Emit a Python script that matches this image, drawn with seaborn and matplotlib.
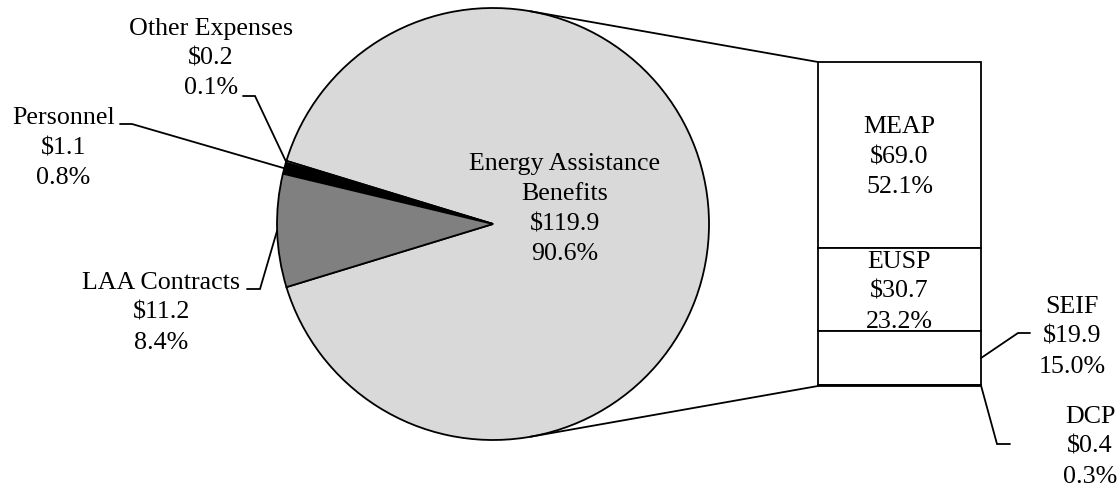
import numpy as np
import pandas as pd
import matplotlib
matplotlib.use("Agg")
import matplotlib.pyplot as plt
import seaborn as sns

# Spending by category, $ millions (pie)
pie_names = ["Energy Assistance Benefits", "Other Expenses", "Personnel", "LAA Contracts"]
pie_values = [119.9, 0.2, 1.1, 11.2]
pie_pcts = ["90.6%", "0.1%", "0.8%", "8.4%"]
pie_colors = ["#d9d9d9", "#ffffff", "#000000", "#808080"]

# Breakdown of Energy Assistance Benefits, $ millions (stacked bar)
bar_names = ["MEAP", "EUSP", "SEIF", "DCP"]
bar_values = [69.0, 30.7, 19.9, 0.4]
bar_pcts = ["52.1%", "23.2%", "15.0%", "0.3%"]

W, H = 1120, 489
sns.set_theme(style="white")
plt.rcParams["font.family"] = ["Liberation Serif", "DejaVu Serif"]
FS = 18.7
LINE_GAP = 30  # px between label lines
LW = 1.3

fig = plt.figure(figsize=(W / 100, H / 100), dpi=100)
fig.patch.set_facecolor("white")


def px_axes(x0, y0, x1, y1):
    """Axes from a pixel box given with y measured from the top."""
    return fig.add_axes([x0 / W, (H - y1) / H, (x1 - x0) / W, (y1 - y0) / H])


# ---- pie ----
pcx, pcy, pr = 493, 225, 216
m = 1.03
ax_pie = px_axes(pcx - pr * m, pcy - pr * m, pcx + pr * m, pcy + pr * m)
start = -0.5 * 360 * pie_values[0] / sum(pie_values)
wedges, _ = ax_pie.pie(pie_values, colors=pie_colors, startangle=start,
                       counterclock=True, radius=1,
                       wedgeprops=dict(edgecolor="black", linewidth=LW))
ax_pie.set_xlim(-m, m)
ax_pie.set_ylim(-m, m)
ax_pie.set_axis_off()

# ---- stacked bar ----
ax_bar = px_axes(818, 63, 981, 387)
bar_df = pd.DataFrame({"group": ["Energy Assistance Benefits"] * len(bar_values),
                       "segment": bar_names, "value": bar_values})
bottoms = np.concatenate([[0], np.cumsum(bar_values)[:-1]])
for i, row in bar_df.iterrows():
    sns.barplot(data=bar_df.iloc[[i]], x="group", y="value", bottom=bottoms[i],
                color="white", saturation=1, edgecolor="black", linewidth=LW,
                width=1, errorbar=None, ax=ax_bar)
for p in ax_bar.patches:
    p.set_clip_on(False)
ax_bar.set_xlim(-0.5, 0.5)
ax_bar.set_ylim(sum(bar_values), 0)
ax_bar.set_axis_off()

# ---- overlay in pixel coordinates for labels and connectors ----
ax = fig.add_axes([0, 0, 1, 1])
ax.set_xlim(0, W)
ax.set_ylim(H, 0)
ax.set_axis_off()
ax.patch.set_alpha(0)


def to_px(transform, pt):
    return ax.transData.inverted().transform(transform.transform(pt))


def block(x, yc, lines):
    n = len(lines)
    for i, s in enumerate(lines):
        ax.text(x, yc + (i - (n - 1) / 2) * LINE_GAP, s, ha="center",
                va="center", fontsize=FS, color="black")


def pie_edge(w):
    th = np.deg2rad(0.5 * (w.theta1 + w.theta2))
    return to_px(ax_pie.transData, (np.cos(th), np.sin(th)))


def leader(p_start, elbow, end):
    ax.plot([p_start[0], elbow[0], end[0]], [p_start[1], elbow[1], end[1]],
            color="black", lw=LW, solid_joinstyle="miter")


# pie labels
block(565, 209, ["Energy Assistance", "Benefits", f"${pie_values[0]:.1f}", pie_pcts[0]])
pie_label_pos = {1: (211, 58.5), 2: (63.5, 148), 3: (161, 313)}
pie_leaders = {1: ((255, 97), (243, 97)), 2: ((132, 125), (120, 125)),
               3: ((260, 290), (247, 290))}
for i, (x, y) in pie_label_pos.items():
    block(x, y, [pie_names[i], f"${pie_values[i]:.1f}", pie_pcts[i]])
    elbow, end = pie_leaders[i]
    leader(pie_edge(wedges[i]), elbow, end)

# bar labels
for i in (0, 1):
    cx, cy = to_px(ax_bar.transData, (0, bottoms[i] + bar_values[i] / 2))
    block(cx, cy + 1, [bar_names[i], f"${bar_values[i]:.1f}", bar_pcts[i]])

bar_label_pos = {2: (1072, 337), 3: (1090, 447)}
bar_leaders = {2: ((1018, 334), (1030, 334)), 3: ((997, 445), (1010, 445))}
for i, (x, y) in bar_label_pos.items():
    block(x, y, [bar_names[i], f"${bar_values[i]:.1f}", bar_pcts[i]])
    start_pt = to_px(ax_bar.transData, (0.5, bottoms[i] + bar_values[i] / 2))
    elbow, end = bar_leaders[i]
    leader(start_pt, elbow, end)

# connectors: tangents from the pie to the bar's left corners
# (overlay y grows downward, so the upper corner takes the negative turn)
C = to_px(ax_pie.transData, (0, 0))
R = to_px(ax_pie.transData, (1, 0))[0] - C[0]
for corner, sign in (((0, 1), -1), ((0, 0), 1)):
    P = to_px(ax_bar.transAxes, corner)
    d = P - C
    base = np.arctan2(d[1], d[0])
    a = np.arccos(R / np.hypot(*d))
    t = base + sign * a
    T = C + R * np.array([np.cos(t), np.sin(t)])
    ax.plot([T[0], P[0]], [T[1], P[1]], color="black", lw=LW)

fig.savefig("out.png", dpi=100, facecolor="white")
